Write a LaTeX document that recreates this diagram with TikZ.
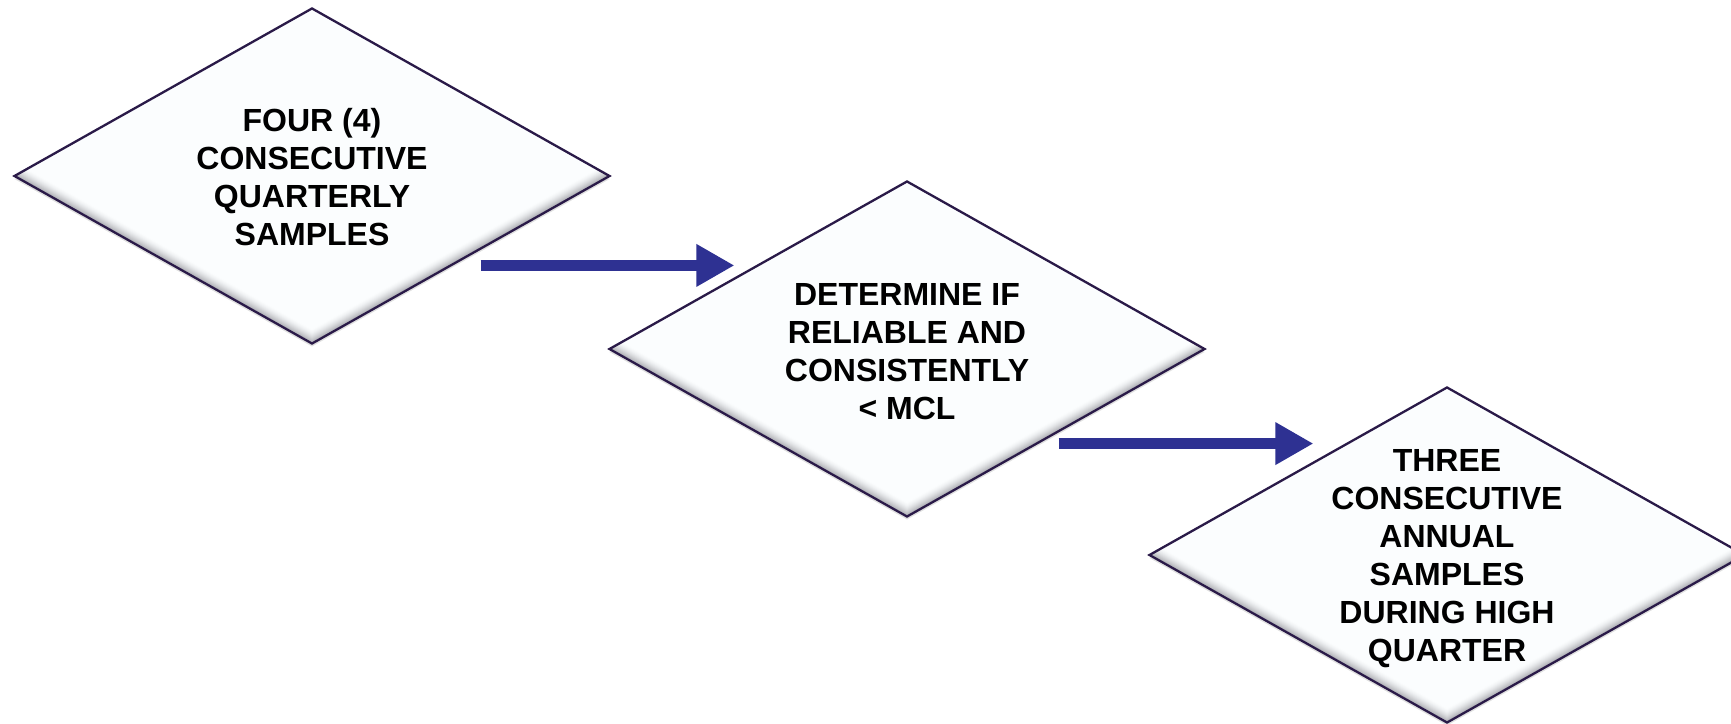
\documentclass[tikz,border=0pt]{standalone}
\usepackage{fontspec}
\setmainfont{Liberation Sans}
\usetikzlibrary{shapes.geometric,arrows.meta,calc,shadows}
\definecolor{dfill}{RGB}{251,253,254}
\definecolor{bevel}{RGB}{120,120,128}
\definecolor{dborder}{RGB}{42,26,72}
\definecolor{arrblue}{RGB}{46,49,146}
\begin{document}
\begin{tikzpicture}[x=1bp,y=-1bp,
  dia/.style={diamond, minimum width=596bp, minimum height=336bp, inner sep=0pt,
    draw=dborder, line width=2.3bp, fill=dfill,
    drop shadow={shadow xshift=0bp, shadow yshift=-3bp, opacity=0.12, fill=black},
    path picture={
      \foreach \k in {1,...,14}{
        \pgfmathsetmacro\c{62*(1-\k/14)^1.6}
        \fill[bevel!\c!dfill]
          ([yshift=\k bp]path picture bounding box.north) --
          ([yshift=\k bp]path picture bounding box.east) --
          ([yshift=\k bp]path picture bounding box.south) --
          ([yshift=\k bp]path picture bounding box.west) -- cycle;
      }}},
  txt/.style={align=center, font=\fontsize{32bp}{38bp}\selectfont\bfseries, text=black, inner sep=0pt},
  arr/.style={draw=arrblue, line width=11bp, -{Triangle[length=38bp, width=40bp, fill=arrblue]}}]
\useasboundingbox (0,0) rectangle (1731,724);
\fill[white] (0,0) rectangle (1731,724);

\node[dia] (d1) at (312,176) {};
\node[txt] (t1) at ([yshift=-1bp]d1.center) {FOUR (4)\\CONSECUTIVE\\QUARTERLY\\SAMPLES};

\node[dia] (d2) at (907,349) {};
\node[txt] (t2) at ([yshift=-3bp]d2.center) {DETERMINE IF\\RELIABLE AND\\CONSISTENTLY\\{<} MCL};

\node[dia] (d3) at (1447,555) {};
\node[txt] (t3) at ([yshift=-4bp]d3.center) {THREE\\CONSECUTIVE\\ANNUAL\\SAMPLES\\DURING HIGH\\QUARTER};

\coordinate (a1s) at ($(d1.south east |- d2.north west)+(19,1)$);
\coordinate (a1e) at ($(d2.north west)+(-23,1)$);
\draw[arr] (a1s) -- (a1e);

\coordinate (a2s) at ($(d2.south east)+(2,10)$);
\coordinate (a2e) at ($(d3.north west |- a2s)+(16,0)$);
\draw[arr] (a2s) -- (a2e);
\end{tikzpicture}
\end{document}
